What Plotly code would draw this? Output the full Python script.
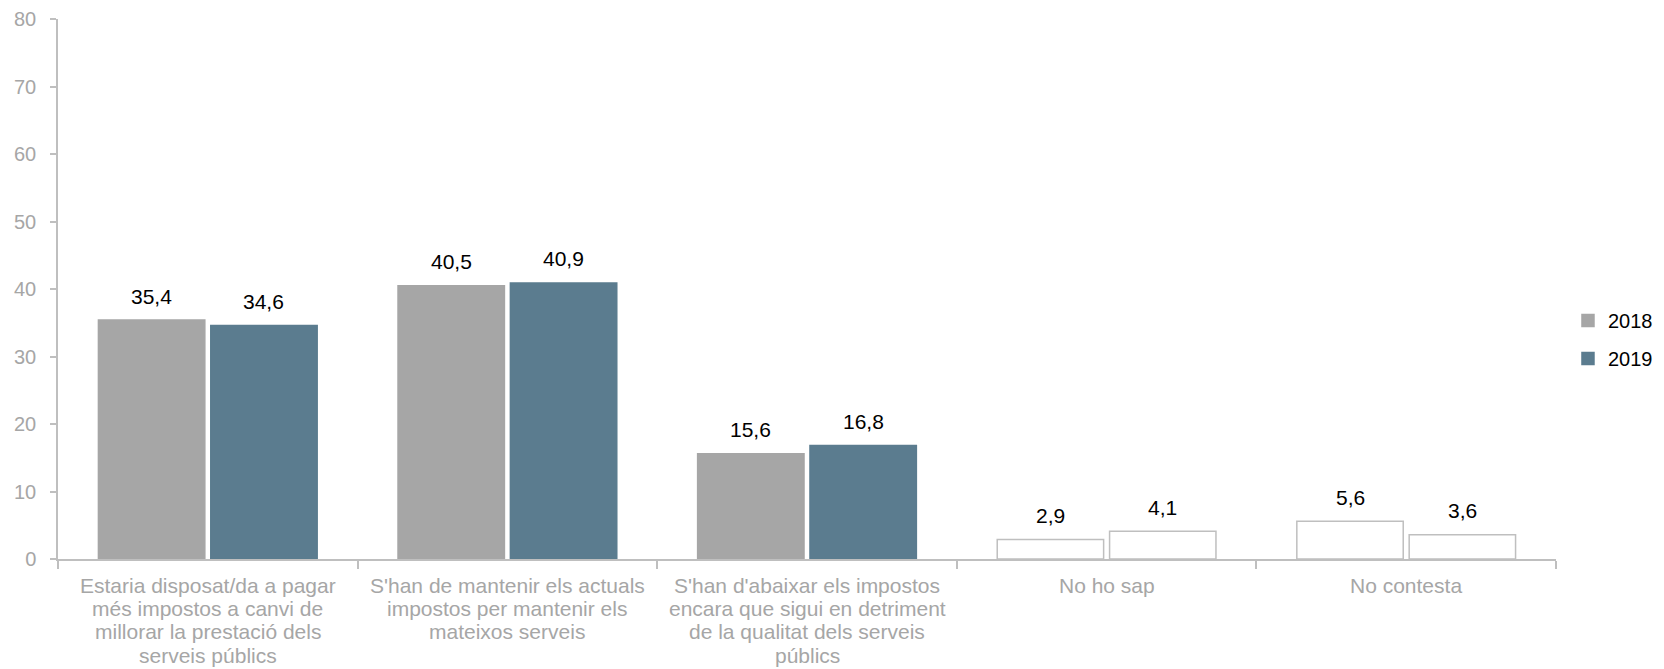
import plotly.graph_objects as go

# ---- data ----
category_lines = [
    ["Estaria disposat/da a pagar", "més impostos a canvi de", "millorar la prestació dels", "serveis públics"],
    ["S'han de mantenir els actuals", "impostos per mantenir els", "mateixos serveis"],
    ["S'han d'abaixar els impostos", "encara que sigui en detriment", "de la qualitat dels serveis", "públics"],
    ["No ho sap"],
    ["No contesta"],
]
categories = [" ".join(lines) for lines in category_lines]
series_names = ["2018", "2019"]
values_2018 = [35.4, 40.5, 15.6, 2.9, 5.6]
values_2019 = [34.6, 40.9, 16.8, 4.1, 3.6]
y_ticks = [0, 10, 20, 30, 40, 50, 60, 70, 80]

# ---- styles ----
FONT = "Liberation Sans, Arial, sans-serif"
GRAY = "#A6A6A6"
BLUE = "#5B7C8F"
AXIS = "#BFBFBF"
LABEL = "#A6A6A6"
open_cats = {3, 4}  # categories drawn as outlined bars

BARGAP = 0.25
BARGROUPGAP = 0.053


def fills(color):
    return ["white" if i in open_cats else color for i in range(len(categories))]


def lines(color):
    return [AXIS if i in open_cats else color for i in range(len(categories))]


fig = go.Figure()
for name, vals, col in [(series_names[0], values_2018, GRAY), (series_names[1], values_2019, BLUE)]:
    fig.add_trace(go.Bar(
        name=name, x=categories, y=vals,
        marker=dict(color=fills(col), line=dict(color=lines(col), width=1.5)),
        legendgroup=name,
        hoverinfo="skip",
    ))

annotations = []
# value labels above bars
half = (1 - BARGAP) / 4
for k, vals in enumerate([values_2018, values_2019]):
    off = -half if k == 0 else half
    for i, v in enumerate(vals):
        annotations.append(dict(
            x=i + off, y=v, xref="x", yref="y",
            text=f"{v:.1f}".replace(".", ","),
            showarrow=False, yanchor="middle", yshift=24,
            font=dict(family=FONT, size=21, color="black"),
        ))
# category labels (one annotation per line for exact line spacing)
for i, lns in enumerate(category_lines):
    for j, ln in enumerate(lns):
        annotations.append(dict(
            x=i, y=0, xref="x", yref="y",
            text=ln, showarrow=False, yanchor="middle",
            yshift=-(26 + j * 23.4),
            font=dict(family=FONT, size=21, color=LABEL),
        ))

fig.update_layout(
    barmode="group",
    bargap=BARGAP,
    bargroupgap=BARGROUPGAP,
    width=1656, height=661,
    margin=dict(l=50, r=108, t=11, b=110, autoexpand=False),
    paper_bgcolor="white",
    plot_bgcolor="white",
    font=dict(family=FONT, size=20, color="black"),
    showlegend=True,
    legend=dict(
        x=1.008, xanchor="left", y=0.4065, yanchor="middle",
        font=dict(family=FONT, size=20, color="black"),
        tracegroupgap=9,
        bgcolor="rgba(0,0,0,0)",
    ),
    annotations=annotations,
)
fig.update_xaxes(
    type="category", automargin=False,
    showline=True, linecolor=AXIS, linewidth=1.5,
    ticks="outside", tickson="boundaries", ticklen=8, tickcolor=AXIS, tickwidth=1.5,
    showticklabels=False, showgrid=False, zeroline=False,
)
fig.update_yaxes(
    range=[0, 80], tickvals=y_ticks, automargin=False,
    showline=True, linecolor=AXIS, linewidth=1.5,
    ticks="outside", ticklen=6, tickcolor=AXIS, tickwidth=1.5,
    tickfont=dict(family=FONT, size=20, color=LABEL),
    ticklabelstandoff=10,
    showgrid=False, zeroline=False,
)

fig.write_html("out.html")
